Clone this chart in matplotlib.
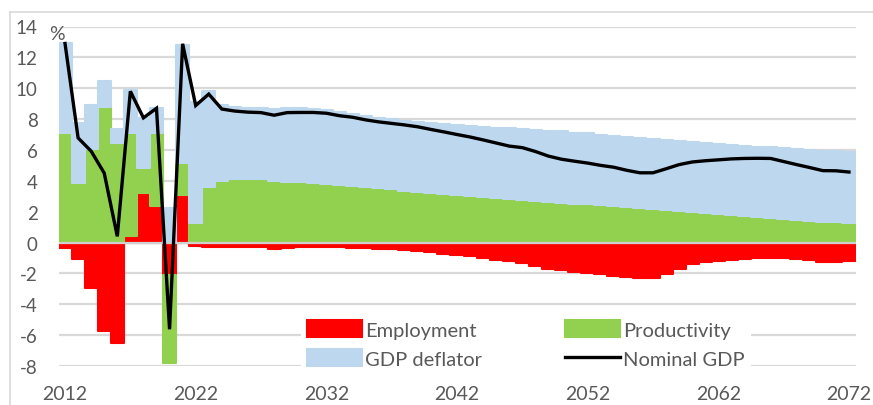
import numpy as np
import matplotlib
matplotlib.use("Agg")
import matplotlib.pyplot as plt
from matplotlib.lines import Line2D
from matplotlib.patches import Patch

plt.rcParams['font.family'] = ['Lato', 'DejaVu Sans']

years = list(range(2012, 2073))

employment = [
    -0.35, -1.07, -2.95, -5.75, -6.50, 0.40, 3.20, 2.35, -2.08, 3.10,
    -0.25, -0.30, -0.30, -0.28, -0.28, -0.32, -0.45, -0.35, -0.30, -0.28,
    -0.28, -0.30, -0.35, -0.38, -0.42, -0.45, -0.50, -0.55, -0.62, -0.72,
    -0.80, -0.90, -1.00, -1.10, -1.20, -1.35, -1.55, -1.70, -1.80, -1.88,
    -1.95, -2.05, -2.15, -2.22, -2.28, -2.28, -2.05, -1.70, -1.40, -1.28,
    -1.18, -1.10, -1.05, -1.00, -0.98, -1.00, -1.05, -1.15, -1.28, -1.25,
    -1.20,
]

productivity = [
    7.10, 3.85, 6.05, 8.80, 6.45, 6.70, 1.60, 4.75, -5.72, 2.05,
    1.26, 3.63, 4.00, 4.10, 4.12, 4.10, 4.00, 3.95, 3.92, 3.88,
    3.82, 3.76, 3.68, 3.60, 3.52, 3.44, 3.36, 3.28, 3.20, 3.13,
    3.06, 3.00, 2.93, 2.86, 2.80, 2.74, 2.68, 2.62, 2.57, 2.52,
    2.47, 2.42, 2.36, 2.30, 2.24, 2.18, 2.12, 2.05, 1.98, 1.92,
    1.86, 1.78, 1.72, 1.66, 1.60, 1.54, 1.48, 1.42, 1.36, 1.31,
    1.25,
]

gdp_deflator = [
    5.85, 3.90, 2.87, 1.70, 0.93, 2.80, 3.30, 1.60, 2.23, 7.65,
    7.84, 6.22, 4.90, 4.70, 4.60, 4.60, 4.68, 4.75, 4.78, 4.80,
    4.80, 4.69, 4.62, 4.60, 4.56, 4.56, 4.54, 4.54, 4.55, 4.55,
    4.56, 4.55, 4.57, 4.59, 4.60, 4.62, 4.62, 4.63, 4.63, 4.61,
    4.61, 4.58, 4.57, 4.56, 4.55, 4.54, 4.53, 4.53, 4.52, 4.52,
    4.51, 4.54, 4.55, 4.56, 4.57, 4.58, 4.58, 4.59, 4.60, 4.60,
    4.61,
]

nominal_gdp = [
    12.90, 6.78, 5.92, 4.50, 0.40, 9.80, 8.08, 8.70, -5.62, 12.88,
    8.88, 9.62, 8.65, 8.52, 8.45, 8.42, 8.25, 8.42, 8.43, 8.43,
    8.38, 8.22, 8.12, 7.95, 7.82, 7.72, 7.62, 7.50, 7.33, 7.17,
    7.00, 6.84, 6.65, 6.45, 6.25, 6.15, 5.90, 5.60, 5.40, 5.27,
    5.15, 5.00, 4.88, 4.68, 4.52, 4.52, 4.78, 5.05, 5.22, 5.30,
    5.36, 5.42, 5.45, 5.46, 5.45, 5.25, 5.05, 4.86, 4.66, 4.65,
    4.57,
]

x_tick_years = [2012, 2022, 2032, 2042, 2052, 2062, 2072]
x_tick_labels = ['2012', '2022', '2032', '2042', '2052', '2062', '2072']
y_ticks = [-8, -6, -4, -2, 0, 2, 4, 6, 8, 10, 12, 14]

series_names = ['Employment', 'Productivity', 'GDP deflator']
series_vals = [employment, productivity, gdp_deflator]
series_colors = ['#ff0000', '#92d050', '#bdd7ee']

W, H = 873, 406
fig = plt.figure(figsize=(W / 100, H / 100), dpi=100)
fig.patch.set_facecolor('white')

left, right, top, bottom = 58.5, 855.5, 27.5, 367.0
ax = fig.add_axes([left / W, 1 - bottom / H, (right - left) / W, (bottom - top) / H])

text_color = '#595959'
grid_color = '#d9d9d9'

pos_base = np.zeros(len(years))
neg_base = np.zeros(len(years))
for name, vals, col in zip(series_names, series_vals, series_colors):
    v = np.array(vals, dtype=float)
    base = np.where(v >= 0, pos_base, neg_base)
    ax.bar(years, v, bottom=base, width=1.0, color=col, edgecolor=col,
           linewidth=1.5, joinstyle='round', zorder=2)
    pos_base = pos_base + np.where(v > 0, v, 0)
    neg_base = neg_base + np.where(v < 0, v, 0)

ax.axhline(0, color='#d0d0d0', lw=1.6, zorder=4)
ax.plot(years, nominal_gdp, color='black', lw=2.4, zorder=5,
        solid_joinstyle='miter')

ax.set_xlim(2011.5, 2072.5)
ax.set_ylim(-8, 14)
ax.set_yticks(y_ticks)
ax.set_yticklabels([str(t) for t in y_ticks])
ax.set_xticks(x_tick_years)
ax.set_xticklabels(x_tick_labels)
ax.yaxis.grid(True, color=grid_color, lw=1.6, zorder=0)
ax.set_axisbelow(True)
for s in ax.spines.values():
    s.set_visible(False)
ax.tick_params(axis='both', length=0, colors=text_color)
ax.tick_params(axis='y', pad=15, labelsize=13.5)
ax.tick_params(axis='x', pad=14, labelsize=14)

fig.text(57 / W, 1 - 35 / H, '%', ha='center', va='center',
         color=text_color, fontsize=14)

handles = [
    Patch(facecolor=series_colors[0], edgecolor=series_colors[0], lw=1.5, joinstyle='round'),
    Patch(facecolor=series_colors[2], edgecolor=series_colors[2], lw=1.5, joinstyle='round'),
    Patch(facecolor=series_colors[1], edgecolor=series_colors[1], lw=1.5, joinstyle='round'),
    Line2D([0], [0], color='black', lw=2.4),
]
labels = ['Employment', 'GDP deflator', 'Productivity', 'Nominal GDP']
leg = ax.legend(handles, labels, ncol=2, loc='upper left',
                bbox_to_anchor=(301 / W, 1 - 315 / H),
                bbox_transform=fig.transFigure, borderaxespad=0,
                borderpad=0.3, frameon=True, fancybox=False,
                facecolor='white', edgecolor='none', framealpha=1,
                handlelength=2.75, handleheight=0.95, handletextpad=0.15,
                columnspacing=4.1, labelspacing=0.52, fontsize=14.5,
                labelcolor=text_color)
leg.set_zorder(6)

fig.add_artist(Line2D([10 / W, 1], [1 - 13 / H, 1 - 13 / H],
                      transform=fig.transFigure, color=grid_color, lw=1.2))
fig.add_artist(Line2D([10 / W, 10 / W], [0, 1 - 13 / H],
                      transform=fig.transFigure, color=grid_color, lw=1.2))

fig.savefig('out.png', dpi=100)
